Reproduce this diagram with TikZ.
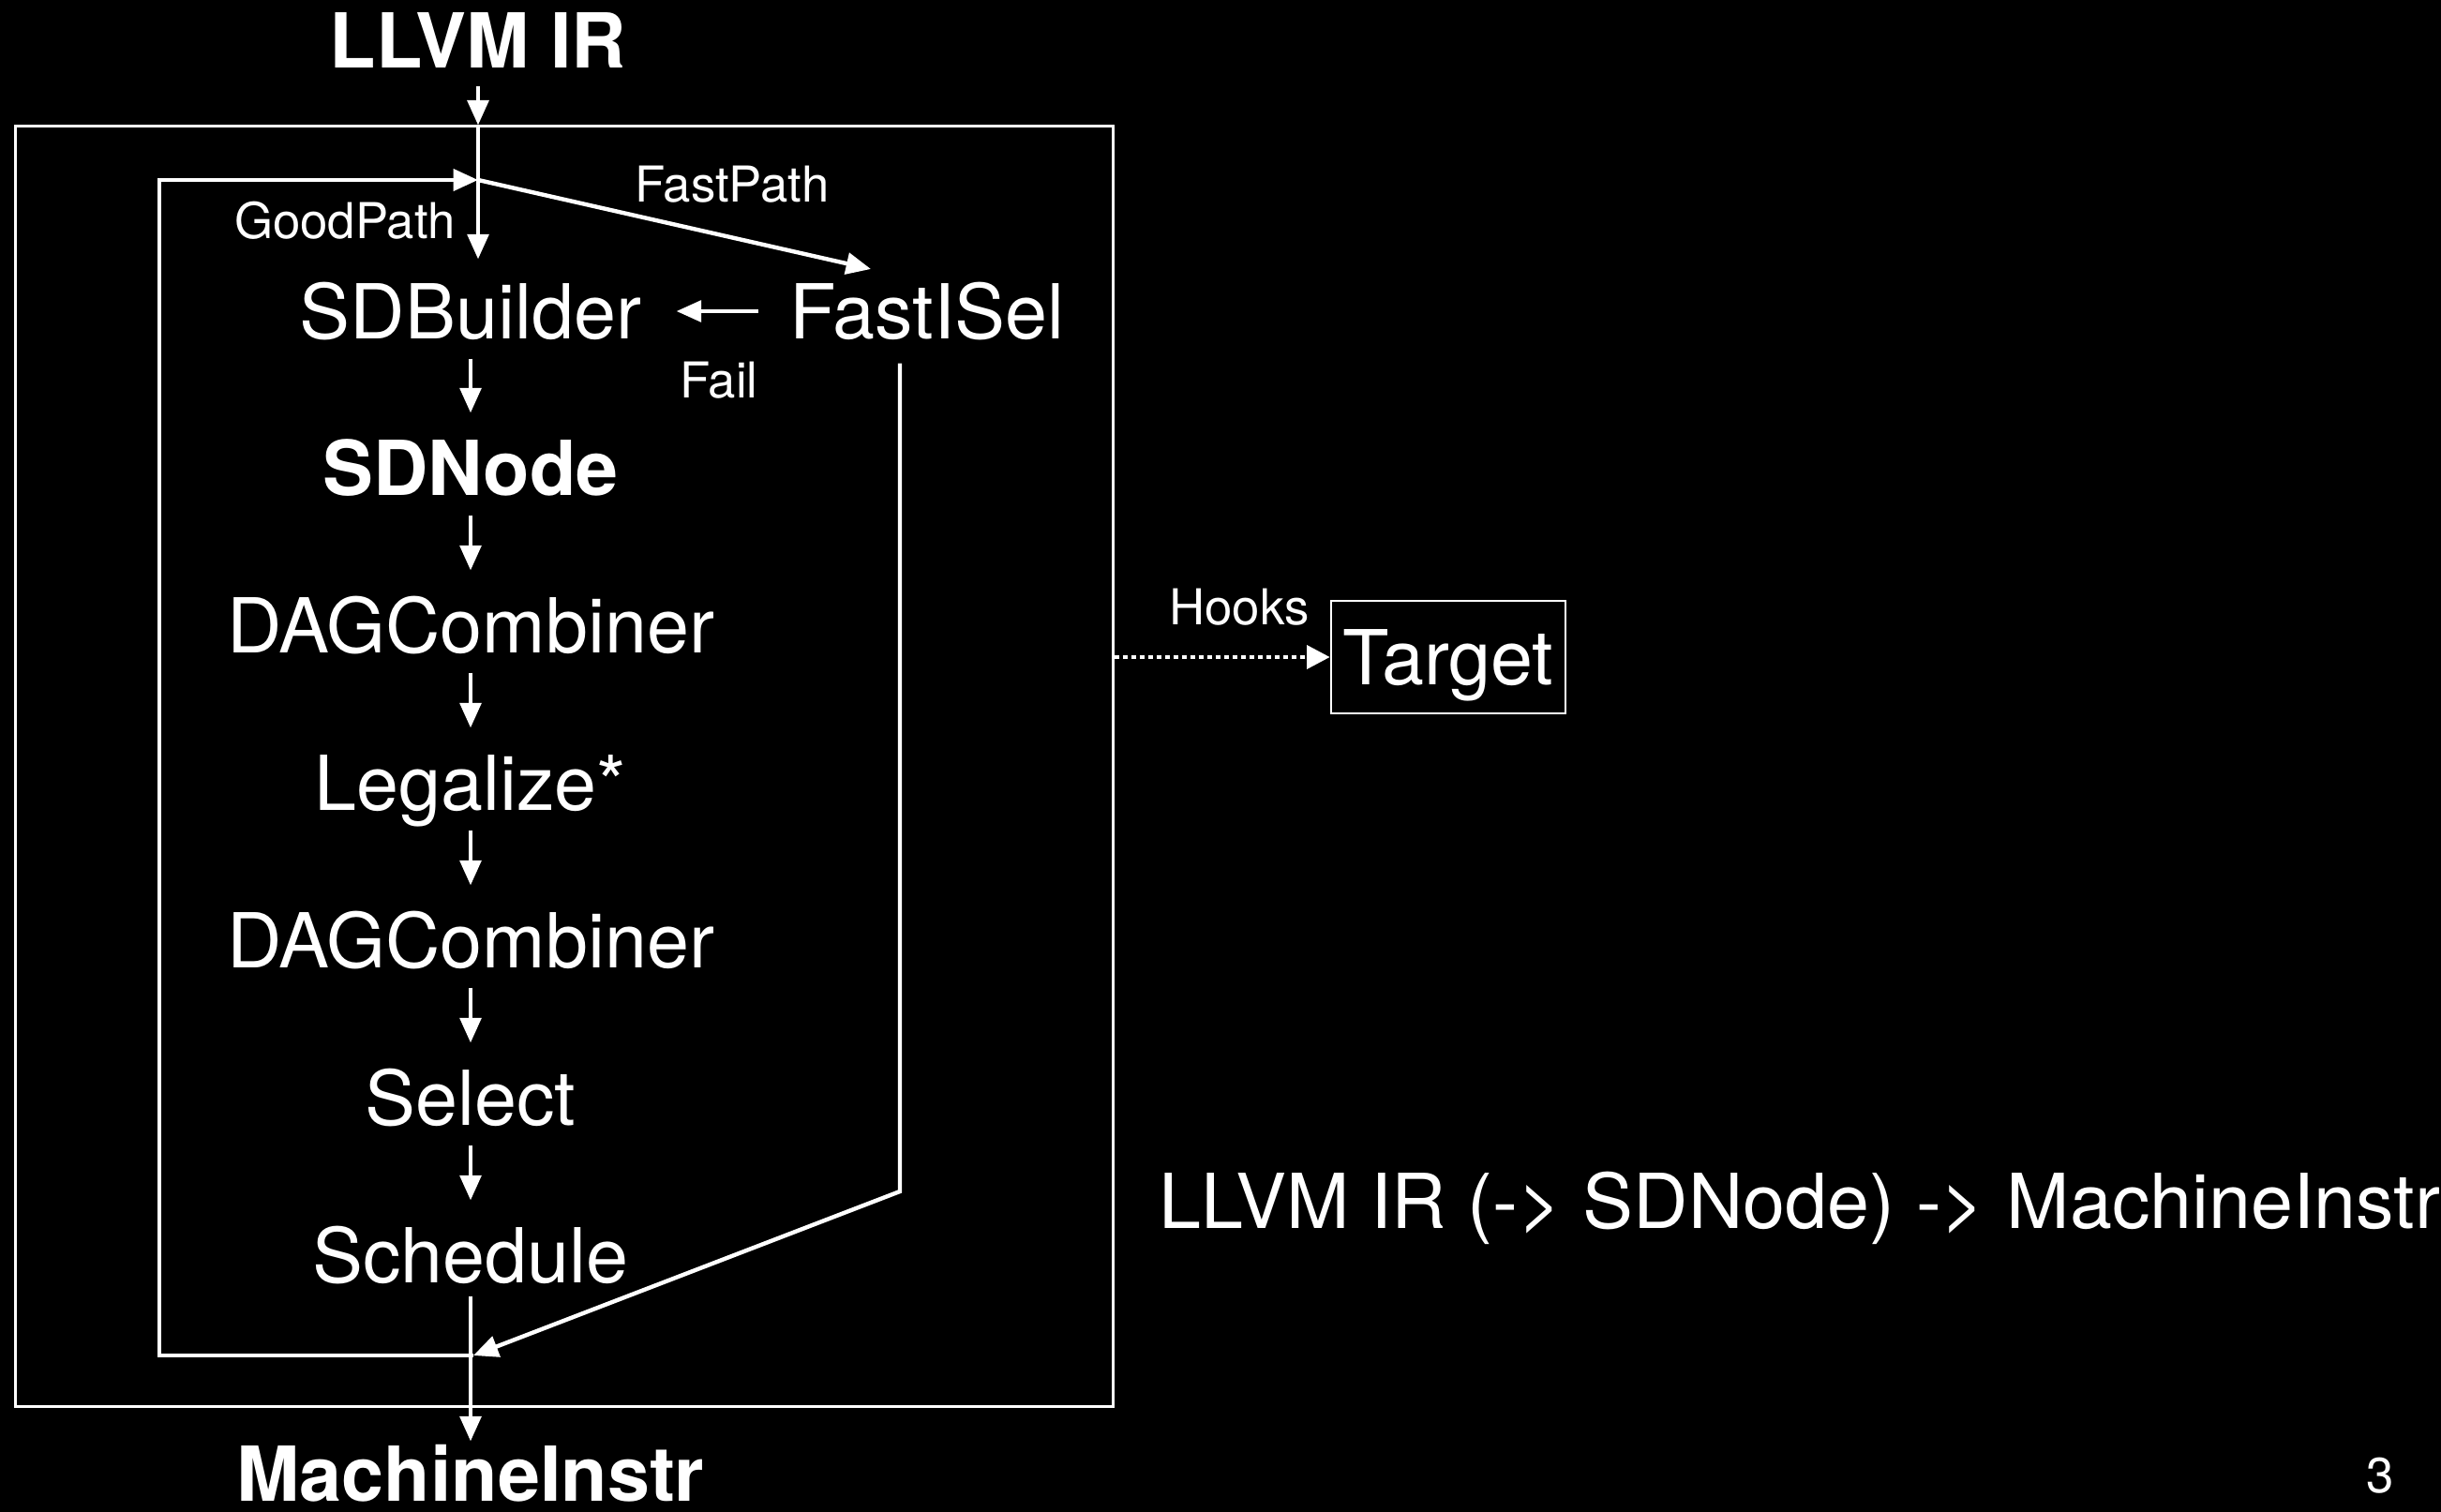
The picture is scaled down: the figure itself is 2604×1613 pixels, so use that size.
\documentclass[tikz,border=0pt]{standalone}
\usepackage{fontspec}
\setmainfont{TeX Gyre Heros}
\usetikzlibrary{arrows.meta}

\tikzset{
  stage/.style={text=white, inner sep=0pt, text height=0.58cm, text depth=0pt, font=\fontsize{23}{26}\selectfont},
  io/.style={stage, font=\fontsize{23}{26}\selectfont\bfseries},
  lbl/.style={text=white, inner sep=0pt, text height=0.39cm, text depth=0pt, font=\fontsize{15}{17}\selectfont},
  arr/.style={draw=white, line width=0.95pt, -{Triangle[length=7.5pt,width=6.5pt]}},
  thickarr/.style={arr, line width=1.25pt},
}

\begin{document}
\begin{tikzpicture}[x=0.01cm,y=-0.01cm]
\fill[black] (0,0) rectangle (2604,1613);
\useasboundingbox (0,0) rectangle (2604,1613);

\node[draw=white, line width=0.7pt, minimum width=11.7cm, minimum height=13.65cm, inner sep=0pt] (frame) at (602,817.5) {};

\node[io] (llvm) at (510,43) {LLVM IR};
\node[io] (mi) at (502,1572) {MachineInstr};

% the passes, top to bottom
\foreach \nm/\y/\txt in {sdb/332/SDBuilder,dag1/667/DAGCombiner,leg/835/Legalize*,dag2/1003/DAGCombiner,sel/1171/Select,sch/1339/Schedule}
  \node[stage] (\nm) at (502,\y) {\txt};
\node[io] (sdn) at (502,499) {SDNode};
\node[stage] (fis) at (989,332) {FastISel};

\foreach \a/\b in {sdb/sdn,sdn/dag1,dag1/leg,leg/dag2,dag2/sel,sel/sch}
  \draw[arr, shorten <=0.21cm, shorten >=0.29cm] (\a.south) -- (\b.north);

\coordinate (top) at (510,192);
\coordinate (bot) at (505,1446);
\coordinate (gl) at (170,1446);
\coordinate (fd) at (960,1271);
\coordinate (fpend) at (929,287);

\draw[arr, shorten <=0.19cm] (llvm.south) -- (llvm.south |- frame.north);
\draw[arr, shorten >=0.26cm] (llvm.south |- frame.north) -- (top |- sdb.north);
\draw[thickarr] (top) -- (fpend);
\draw[thickarr] (bot) -- (gl) |- (top);
\draw[thickarr, shorten <=0.26cm] (fis.south -| fd) -- (fd) -- (bot);
\draw[arr, shorten <=0.33cm, shorten >=0.37cm] (fis.west) -- (sdb.east);
\draw[arr, shorten <=0.14cm, shorten >=0.05cm] (sch.south) -- (mi.north);

\node[lbl] (good) at (368,235) {GoodPath};
\node[lbl] (fast) at (781,196) {FastPath};
\node[lbl] (fail) at (767,405) {Fail};

% target hooks
\node[stage, draw=white, line width=0.7pt, minimum width=2.5cm, minimum height=1.2cm] (tgt) at (1545,701) {Target};
\node[lbl] (hooks) at (1322,647) {Hooks};
\draw[white, line width=1.3pt, dash pattern=on 0.05cm off 0.04cm, -{Triangle[length=7pt,width=7pt]}] (frame.east |- tgt.west) -- (tgt.west);

\node[stage] (note) at (1920,1281) {LLVM IR (-> SDNode) -> MachineInstr};
\node[lbl] (pg) at (2539,1573) {3};
\end{tikzpicture}
\end{document}
